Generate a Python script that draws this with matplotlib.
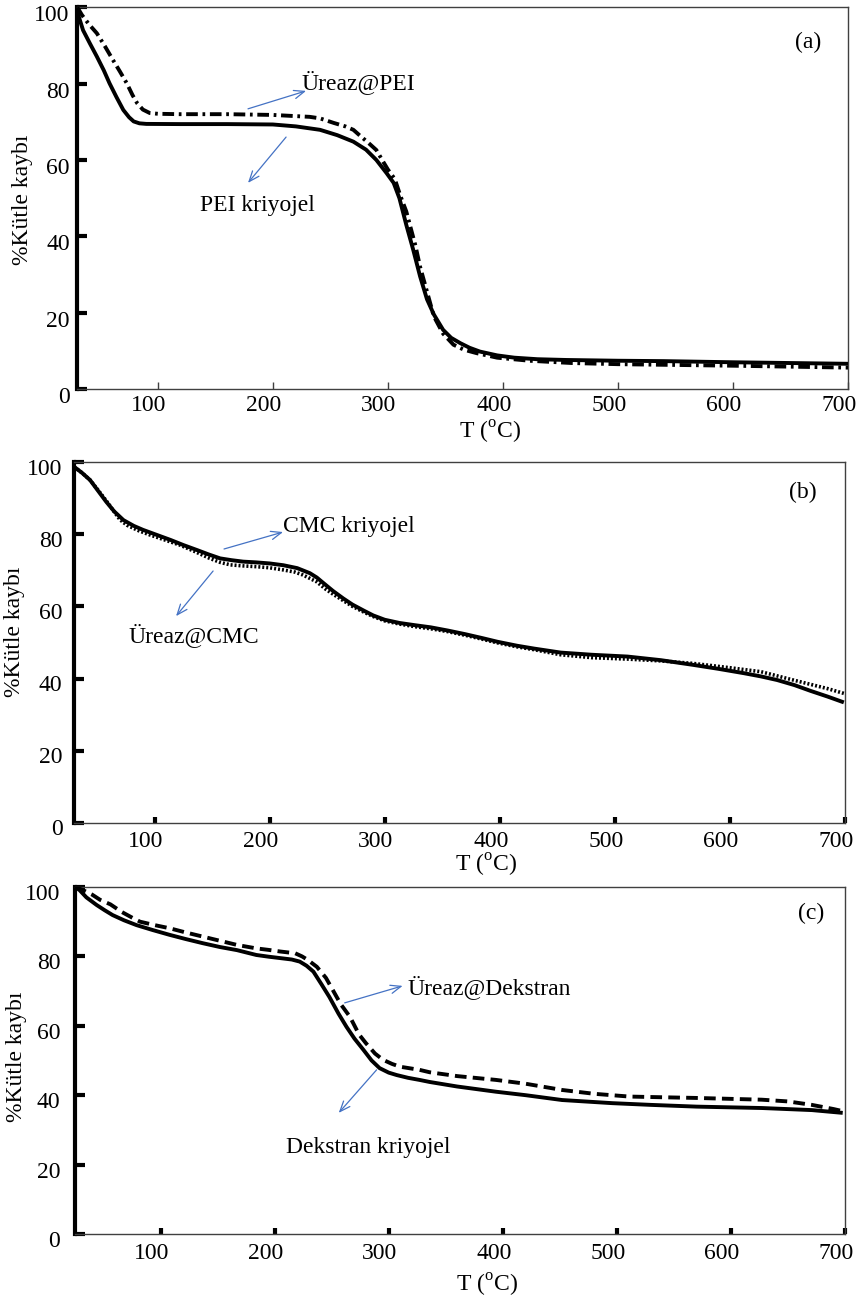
import numpy as np
import matplotlib
matplotlib.use("Agg")
import matplotlib.pyplot as plt
from matplotlib.transforms import ScaledTranslation

plt.rcParams["font.family"] = ["Liberation Serif", "DejaVu Serif"]

# (a) PEI
t_pei = [30, 35, 41, 47, 53, 58, 64, 70, 75, 79, 84, 90, 120, 160, 200, 220, 241, 256, 270, 281,
         290, 299, 305, 310, 316, 322, 328, 334, 340, 348, 355, 363, 371, 380, 395, 410, 430, 455,
         500, 540, 600, 650, 700]
y_pei = [98.8, 94, 90.5, 87.1, 83.5, 80.1, 76.5, 73.1, 71.2, 70.1, 69.6, 69.45, 69.4, 69.4, 69.3,
         68.8, 67.9, 66.5, 64.8, 62.7, 60, 56.5, 54, 50, 43, 36.5, 29.5, 23.5, 19.5, 15.5, 13.4, 12,
         10.8, 9.8, 8.8, 8.2, 7.8, 7.6, 7.4, 7.3, 7, 6.8, 6.6]
t_ur_pei = [30, 34, 40, 47, 54, 61, 67, 73, 78, 82, 87, 93, 100, 119, 160, 200, 232, 241, 253, 263,
            270, 276, 283, 290, 296, 300, 306, 311, 316, 320, 324, 328, 334, 340, 348, 357, 366, 377,
            395, 423, 460, 500, 600, 700]
y_ur_pei = [100, 98, 95.6, 93.2, 89.8, 86.2, 83.2, 80.1, 77, 74.9, 73.2, 72.3, 72.1, 72, 72, 71.8,
            71.3, 70.9, 69.7, 68.8, 67.9, 66.3, 64.5, 62.6, 59.5, 57.5, 55, 50.5, 46.5, 42, 37.5, 32,
            25.5, 19, 14.5, 11.6, 10.3, 9.4, 8.2, 7.4, 6.8, 6.5, 6.1, 5.6]

# (b) CMC
t_cmc = [30, 37, 44, 51, 58, 65, 73, 82, 90, 102, 114, 125, 137, 147, 157, 167, 177, 188, 200, 212,
         224, 235, 241, 247, 255, 264, 272, 282, 290, 300, 313, 326, 340, 355, 370, 385, 398, 415,
         430, 453, 480, 511, 540, 568, 590, 612, 627, 641, 656, 670, 685, 699]
y_cmc = [98.7, 97, 95, 92, 89, 86.3, 83.9, 82.3, 81.2, 79.8, 78.4, 77, 75.6, 74.4, 73.3, 72.8, 72.4,
         72.2, 71.9, 71.4, 70.6, 69.2, 68, 66.4, 64.3, 62.2, 60.5, 58.8, 57.5, 56.3, 55.4, 54.8, 54.2,
         53.3, 52.3, 51.2, 50.2, 49.1, 48.3, 47.2, 46.6, 46.1, 45.1, 43.8, 42.7, 41.5, 40.6, 39.6,
         38.2, 36.6, 35, 33.4]
t_ur_cmc = [30, 37, 44, 51, 58, 65, 70, 76, 86, 96, 109, 122, 135, 148, 157, 166, 178, 189, 200, 212,
            222, 229, 241, 249, 257, 264, 272, 282, 290, 300, 313, 326, 340, 355, 370, 385, 398, 415,
            430, 453, 480, 511, 540, 568, 600, 627, 655, 670, 685, 699]
y_ur_cmc = [98.7, 97, 95, 92.2, 89.3, 86.2, 84, 82.5, 81, 79.8, 78.4, 77, 75.2, 73.3, 72.2, 71.5,
            71.2, 71, 70.7, 70.1, 69.5, 68.7, 66.8, 64.7, 63, 61.6, 60, 58.4, 57.2, 56, 55.1, 54.4,
            53.8, 53, 52, 50.9, 49.9, 48.8, 48, 46.6, 45.8, 45.4, 44.9, 44.2, 43, 41.9, 39.6, 38.4,
            37.2, 35.9]

# (c) Dekstran
t_dek = [25, 29, 35, 44, 51, 58, 68, 79, 93, 108, 122, 137, 152, 167, 184, 195, 205, 215, 222, 228,
         234, 241, 248, 256, 263, 270, 278, 285, 292, 300, 307, 317, 327, 336, 360, 394, 420, 452,
         496, 530, 570, 627, 671, 698]
y_dek = [100, 99.1, 97, 94.8, 93.3, 91.9, 90.4, 89, 87.6, 86.2, 85, 83.8, 82.7, 81.8, 80.4, 79.9,
         79.5, 79.1, 78.5, 77.3, 75.6, 72, 68.3, 63.5, 59.7, 56.3, 53, 50, 47.8, 46.5, 45.8, 45, 44.4,
         43.8, 42.5, 41, 40, 38.6, 37.7, 37.2, 36.7, 36.3, 35.7, 34.9]
t_ur_dek = [25, 32, 40, 47, 56, 66, 76, 82, 95, 108, 122, 137, 152, 167, 184, 194, 205, 218, 224, 229,
            237, 245, 251, 258, 266, 274, 280, 288, 295, 303, 310, 327, 336, 360, 394, 420, 452, 480,
            511, 540, 570, 627, 650, 671, 690, 698]
y_ur_dek = [100, 99.1, 97.8, 96.3, 95, 92.8, 91, 90, 89, 88.1, 86.9, 85.7, 84.5, 83.3, 82.3, 81.9,
            81.4, 80.9, 80, 79, 77, 73.8, 70.3, 66.2, 62.6, 57.5, 55, 52, 50.2, 49, 48.2, 47.3, 46.6,
            45.5, 44.4, 43.3, 41.5, 40.4, 39.6, 39.4, 39.2, 38.7, 38.2, 37.2, 36, 35.4]

xticks = [100, 200, 300, 400, 500, 600, 700]
yticks = [0, 20, 40, 60, 80, 100]

FS = 17
BLUE = "#4472C4"
GREY = "#404040"

fig = plt.figure(figsize=(8.57, 13.04), dpi=100)
ax_a = fig.add_axes([0.0902, 0.7017, 0.8993, 0.2927])
ax_b = fig.add_axes([0.0863, 0.3689, 0.8997, 0.2768])
ax_c = fig.add_axes([0.0875, 0.0537, 0.8985, 0.2661])


def setup(ax, xmin, thick_x, xpad, ypad, ydown, xlab_y, ylab_xy, tag, tag_xy):
    ax.set_xlim(xmin, 700)
    ax.set_ylim(0, 100)
    ax.set_xticks(xticks)
    ax.set_yticks(yticks)
    for s in ["top", "right", "bottom"]:
        ax.spines[s].set_linewidth(1)
        ax.spines[s].set_color(GREY)
    ax.spines["left"].set_linewidth(3)
    ax.spines["left"].set_color("black")
    ax.tick_params(axis="y", direction="in", length=7.2, width=3, color="black",
                   labelsize=FS, pad=ypad)
    if thick_x:
        ax.tick_params(axis="x", direction="in", length=4.5, width=3, color="black",
                       labelsize=FS, pad=xpad)
    else:
        ax.tick_params(axis="x", direction="in", length=5, width=1, color=GREY,
                       labelsize=FS, pad=xpad)
    offx = ScaledTranslation(-0.09, 0, fig.dpi_scale_trans)
    offy = ScaledTranslation(0, -ydown / 100, fig.dpi_scale_trans)
    for t in ax.xaxis.get_major_ticks():
        t.label1.set_transform(t.label1.get_transform() + offx)
    for t in ax.yaxis.get_major_ticks():
        t.label1.set_transform(t.label1.get_transform() + offy)
    ax.text(0.535, xlab_y, r"T ($^{\mathregular{o}}$C)", transform=ax.transAxes,
            ha="center", va="top", fontsize=FS)
    ax.set_ylabel("%Kütle kaybı", fontsize=FS)
    ax.yaxis.set_label_coords(*ylab_xy)
    ax.text(tag_xy[0], tag_xy[1], tag, transform=ax.transAxes, ha="center", va="center",
            fontsize=FS)


def note(ax, text, txy, start, end):
    ax.text(txy[0], txy[1], text, ha="left", va="center", fontsize=FS)
    ax.annotate("", xy=end, xytext=start,
                arrowprops=dict(arrowstyle="->,head_length=0.75,head_width=0.3",
                                color=BLUE, lw=0.9, shrinkA=0, shrinkB=0))


# (a)
ax_a.plot(t_pei, y_pei, color="black", lw=2.8, solid_capstyle="butt", zorder=3)
ax_a.plot(t_ur_pei, y_ur_pei, color="black", lw=2.8, linestyle=(0, (3, 1.2, 0.7, 1.2)),
          dash_capstyle="butt", zorder=3)
setup(ax_a, 30, False, 4.2, 5.5, 6, -0.078, (-0.0575, 0.495), "(a)", (0.948, 0.908))
note(ax_a, "Üreaz@PEI", (224.5, 80.4), (178.4, 73.4), (228.9, 78.1))
note(ax_a, "PEI kriyojel", (136.7, 48.2), (211.5, 66), (178.4, 54))

# (b)
ax_b.plot(t_cmc, y_cmc, color="black", lw=2.8, solid_capstyle="butt", zorder=3)
ax_b.plot(t_ur_cmc, y_ur_cmc, color="black", lw=2.6, linestyle=(0, (0.55, 0.55)),
          dash_capstyle="butt", zorder=3)
setup(ax_b, 30, True, 6.0, 8.2, 4.5, -0.08, (-0.0636, 0.529), "(b)", (0.9455, 0.917))
note(ax_b, "CMC kriyojel", (211.7, 82), (160.4, 75.9), (211.7, 80.6))
note(ax_b, "Üreaz@CMC", (77, 52.1), (150.9, 69.8), (118.7, 57.3))

# (c)
ax_c.plot(t_dek, y_dek, color="black", lw=2.8, solid_capstyle="butt", zorder=3)
ax_c.plot(t_ur_dek, y_ur_dek, color="black", lw=2.8, linestyle=(0, (3, 1.6)),
          dash_capstyle="butt", zorder=3)
setup(ax_c, 25, True, 6.4, 10.6, 5, -0.11, (-0.062, 0.51), "(c)", (0.956, 0.925))
note(ax_c, "Üreaz@Dekstran", (316.6, 71.2), (261.4, 66.6), (312.2, 71.5))
note(ax_c, "Dekstran kriyojel", (209.8, 24.8), (289.4, 47.3), (256.2, 34.9))

fig.savefig("out.png", dpi=100)
